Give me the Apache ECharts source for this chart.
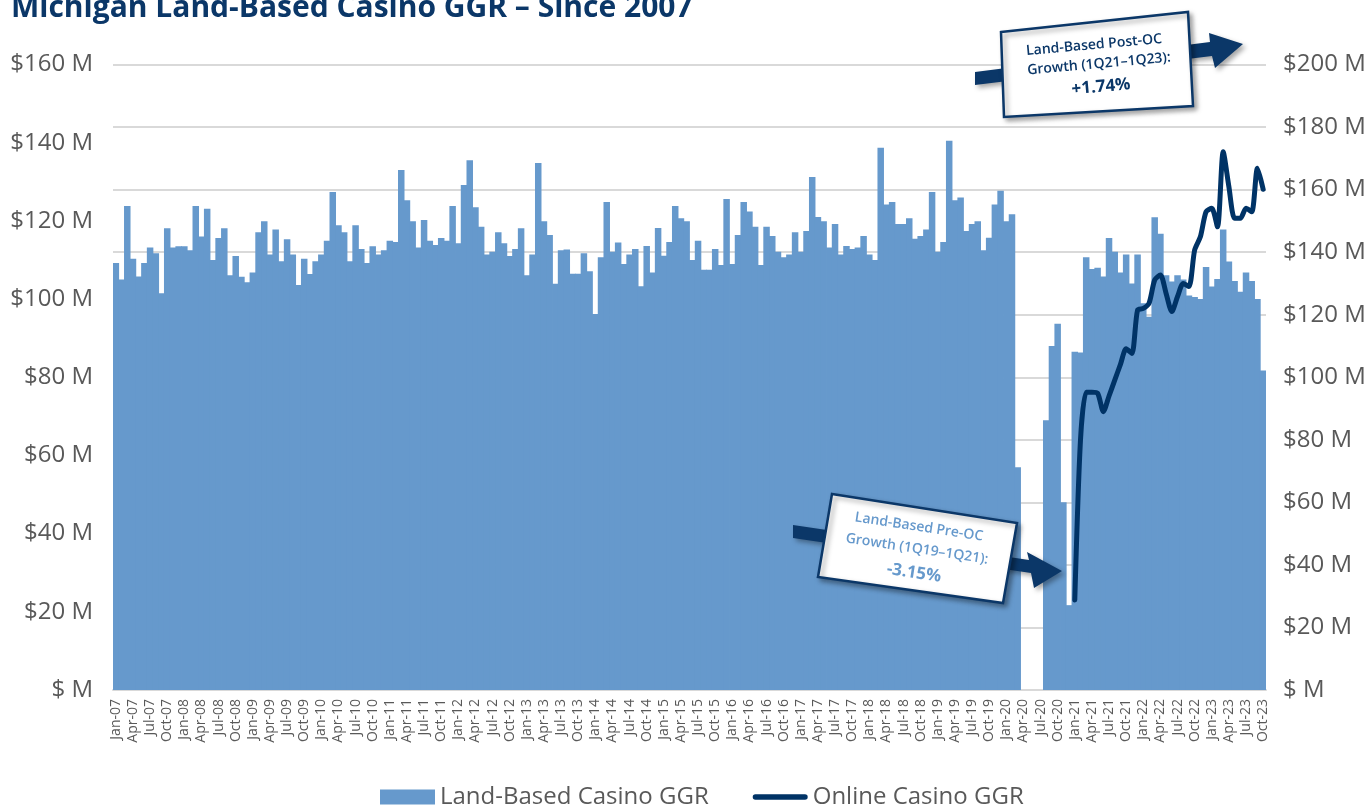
<!DOCTYPE html>
<html lang="en">
<head>
<meta charset="utf-8">
<title>Michigan Land-Based Casino GGR</title>
<script src="https://cdn.jsdelivr.net/npm/echarts@6.0.0/dist/echarts.min.js"></script>
<style type="text/css">
  html, body { margin: 0; padding: 0; background: #fff; }
  #chart { width: 1372px; height: 806px; }
</style>
</head>
<body>
<div id="chart"></div>
<script type="text/javascript">
// month labels, Jan-07 .. Oct-23
var monthNames = ['Jan', 'Feb', 'Mar', 'Apr', 'May', 'Jun', 'Jul', 'Aug', 'Sep', 'Oct', 'Nov', 'Dec'];
var yearLabels = ['07', '08', '09', '10', '11', '12', '13', '14', '15', '16', '17', '18', '19', '20', '21', '22', '23'];
var months = [];
yearLabels.forEach(function (y) {
  monthNames.forEach(function (m) { months.push(m + '-' + y); });
});
months = months.slice(0, 202);

// land-based casino GGR, $M per month
var landBased = [
  109.2, 105.0, 123.8, 110.3, 105.8, 109.2, 113.2, 111.7, 101.5, 118.1, 113.2, 113.5, // 2007
  113.5, 112.5, 123.8, 116.0, 123.1, 110.0, 115.6, 118.1, 106.1, 111.0, 105.7, 104.3, // 2008
  106.8, 117.1, 119.9, 111.4, 117.8, 109.7, 115.3, 111.4, 103.6, 110.3, 106.4, 109.7, // 2009
  111.4, 114.9, 127.4, 118.9, 117.1, 109.7, 118.9, 112.8, 109.2, 113.5, 111.4, 112.5, // 2010
  114.9, 114.6, 133.0, 125.3, 119.9, 113.2, 120.2, 114.9, 113.8, 115.6, 114.9, 123.8, // 2011
  114.3, 129.2, 135.5, 123.5, 118.5, 111.4, 112.1, 117.1, 114.3, 111.0, 112.8, 118.1, // 2012
  106.1, 111.4, 134.8, 119.9, 116.4, 103.9, 112.5, 112.7, 106.5, 106.5, 111.7, 107.1, // 2013
  96.2, 110.7, 124.8, 112.1, 114.5, 109.0, 111.4, 112.8, 103.3, 113.6, 106.8, 118.2,  // 2014
  111.1, 114.6, 123.8, 120.7, 119.9, 110.0, 114.9, 107.5, 107.5, 112.8, 108.7, 125.6, // 2015
  109.0, 116.4, 124.8, 122.4, 118.5, 108.7, 118.5, 116.1, 112.1, 110.7, 111.4, 117.1, // 2016
  112.1, 117.4, 131.2, 121.0, 119.9, 113.2, 119.2, 111.4, 113.6, 112.8, 113.2, 116.1, // 2017
  111.4, 110.0, 138.7, 124.2, 124.8, 119.2, 119.2, 120.7, 115.4, 116.1, 117.8, 127.4, // 2018
  112.1, 114.6, 140.5, 125.3, 126.0, 117.4, 119.2, 119.9, 112.5, 115.7, 124.2, 127.7, // 2019
  119.9, 121.7, 57.0, 0, 0, 0, 0, 69.0, 88.0, 93.7, 48.0, 21.7,                      // 2020
  86.5, 86.3, 110.7, 107.7, 108.0, 105.8, 115.6, 112.1, 106.8, 111.4, 104.0, 111.4,   // 2021
  98.9, 95.5, 120.9, 116.7, 106.1, 104.5, 106.1, 105.0, 100.9, 100.5, 100.0, 108.2,   // 2022
  103.2, 105.1, 117.8, 109.6, 104.6, 101.9, 106.8, 104.6, 100.0, 81.7                 // 2023
];

// online casino GGR, $M per month from Jan-21
var onlineStart = 'Jan-21';
var online = [
  28.8, 80.0, 95.2, 95.2, 94.9, 89.0, 94.0, 99.1, 104.1, 109.1, 107.6, 121.5,  // 2021
  122.0, 123.6, 131.1, 132.7, 126.8, 121.0, 125.8, 130.0, 129.0, 140.7, 144.9, 152.9, // 2022
  154.0, 148.1, 172.1, 160.9, 150.8, 150.8, 154.0, 152.9, 166.8, 160.1         // 2023
];

var leftTicks = [0, 20, 40, 60, 80, 100, 120, 140, 160];
var rightTicks = [0, 20, 40, 60, 80, 100, 120, 140, 160, 180, 200];

var startIdx = months.indexOf(onlineStart);
var onlineLine = months.map(function (m, i) {
  return i >= startIdx ? online[i - startIdx] : null;
});

var navy = '#0b3768';
var lineNavy = '#003366';
var barBlue = '#6699cc';
var grey = '#595959';
var fontName = '"Open Sans", "DejaVu Sans", sans-serif';
var moneyLabel = function (v) { return v === 0 ? '$ M' : '$' + v + ' M'; };

var shadow = { shadowBlur: 5, shadowColor: 'rgba(0,0,0,0.35)', shadowOffsetX: 3, shadowOffsetY: 3 };

function calloutText(x, y, rot, text, color, font) {
  return {
    type: 'text', x: x, y: y, rotation: rot, z: 110,
    style: { text: text, fill: color, font: font, textAlign: 'center', textVerticalAlign: 'middle' }
  };
}

var chart = echarts.init(document.getElementById('chart'));
var option = {
  animation: false,
  textStyle: { fontFamily: fontName },
  title: {
    text: 'Michigan Land-Based Casino GGR \u2013 Since 2007',
    left: 6,
    top: -12,
    textStyle: { fontSize: 30, fontWeight: 'bold', color: navy, fontFamily: fontName }
  },
  legend: {
    left: 375,
    top: 780,
    itemWidth: 55,
    itemHeight: 15,
    itemGap: 44,
    textStyle: { fontSize: 24, color: grey, fontFamily: fontName },
    data: [
      { name: 'Land-Based Casino GGR', icon: 'rect' },
      { name: 'Online Casino GGR', icon: 'path://M3,0H57A3,3 0 0 1 57,6H3A3,3 0 0 1 3,0Z' }
    ]
  },
  grid: { left: 113, right: 106, top: 64.5, bottom: 116 },
  xAxis: {
    type: 'category',
    data: months,
    axisTick: { show: false },
    axisLine: { lineStyle: { color: '#d9d9d9', width: 2 } },
    axisLabel: { interval: 2, rotate: 90, fontSize: 14, color: grey, margin: 9 }
  },
  yAxis: [
    {
      type: 'value',
      min: leftTicks[0],
      max: leftTicks[leftTicks.length - 1],
      interval: 20,
      splitLine: { show: false },
      axisLabel: { formatter: moneyLabel, fontSize: 24, color: grey, margin: 20 }
    },
    {
      type: 'value',
      min: rightTicks[0],
      max: rightTicks[rightTicks.length - 1],
      interval: 20,
      splitLine: { show: true, lineStyle: { color: '#d9d9d9', width: 2 } },
      axisLabel: { formatter: moneyLabel, fontSize: 24, color: grey, margin: 17 }
    }
  ],
  series: [
    {
      name: 'Land-Based Casino GGR',
      type: 'bar',
      data: landBased,
      // slightly wider than the band so neighbouring bars overlap, no seams
      barWidth: 6.5,
      itemStyle: { color: barBlue }
    },
    {
      name: 'Online Casino GGR',
      type: 'line',
      yAxisIndex: 1,
      data: onlineLine,
      symbol: 'none',
      smooth: 0.25,
      z: 5,
      itemStyle: { color: lineNavy },
      lineStyle: { color: lineNavy, width: 5, cap: 'round', join: 'round' }
    }
  ],
  graphic: [
    // post-OC callout
    { type: 'polygon', z: 100,
      shape: { points: [[975, 72], [1210, 42], [1209, 33], [1243, 44], [1215, 68], [1212, 56], [975, 85]] },
      style: Object.assign({ fill: navy }, shadow) },
    { type: 'polygon', z: 101,
      shape: { points: [[1001, 32], [1188, 12], [1193, 106], [1004, 117]] },
      style: Object.assign({ fill: '#fff', stroke: navy, lineWidth: 2.5 }, shadow) },
    calloutText(1094, 45, 0.09, 'Land-Based Post-OC', navy, '600 14px ' + fontName),
    calloutText(1099, 64, 0.09, 'Growth (1Q21\u20131Q23):', navy, '600 14px ' + fontName),
    calloutText(1101, 87, 0.09, '+1.74%', navy, 'bold 17px ' + fontName),
    // pre-OC callout
    { type: 'polygon', z: 100,
      shape: { points: [[793, 525], [1029, 560], [1027, 552], [1062, 571], [1034, 588], [1031, 573], [793, 538]] },
      style: Object.assign({ fill: navy }, shadow) },
    { type: 'polygon', z: 101,
      shape: { points: [[832, 494], [1017, 523], [1003, 603], [818, 577]] },
      style: Object.assign({ fill: '#fff', stroke: navy, lineWidth: 2.5 }, shadow) },
    calloutText(919, 527, -0.15, 'Land-Based Pre-OC', barBlue, '600 14px ' + fontName),
    calloutText(917, 549, -0.15, 'Growth (1Q19\u20131Q21):', barBlue, '600 14px ' + fontName),
    calloutText(914, 573, -0.15, '-3.15%', barBlue, 'bold 17px ' + fontName)
  ]
};
chart.setOption(option);
</script>
</body>
</html>
